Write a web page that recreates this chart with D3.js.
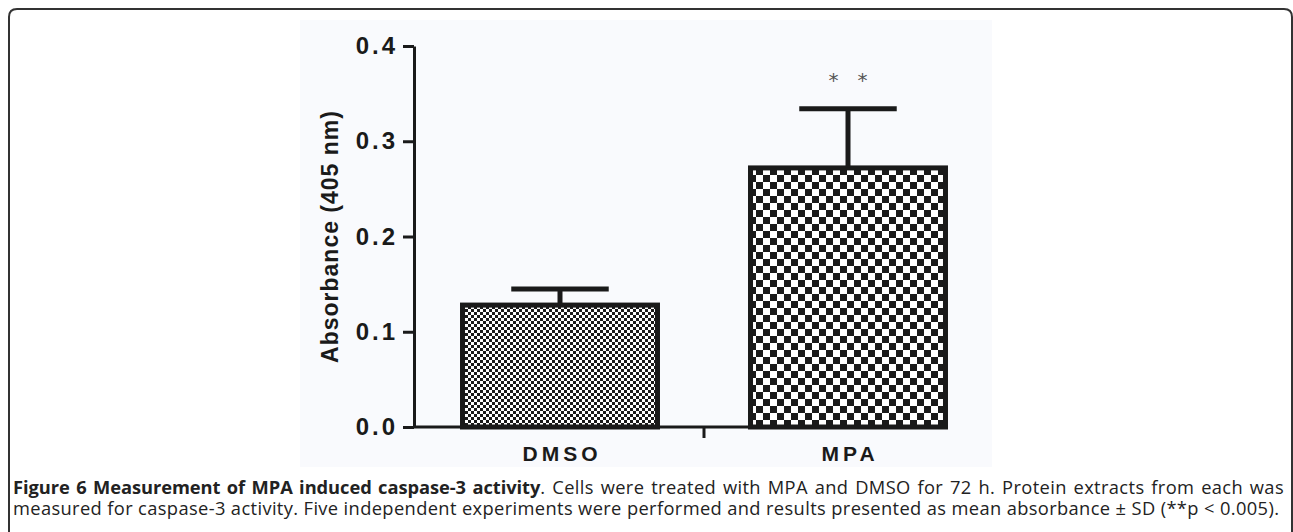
<!DOCTYPE html>
<html>
<head>
<meta charset="utf-8">
<script src="https://cdn.jsdelivr.net/npm/d3@7"></script>
<style>
  body { margin: 0; background: #fff; }
  #wrap { position: relative; width: 1293px; height: 532px; overflow: hidden; }
  svg { position: absolute; left: 0; top: 0; }
  #caption {
    position: absolute; left: 13px; top: 476px; width: 1271px;
    font-family: "Open Sans", sans-serif; font-size: 18.3px; line-height: 21px;
    color: #222; text-align: justify; text-align-last: left;
    letter-spacing: 0.37px;
  }
  #caption b { font-weight: 700; letter-spacing: -0.05px; }
</style>
</head>
<body>
<div id="wrap">
  <div id="chart"></div>
  <div id="caption"></div>
</div>
<script>
const categories = ["DMSO", "MPA"]
const means = [0.128, 0.272]
const sds = [0.017, 0.062]
const stars = ["", "*   *"]
const yTicks = [0, 0.1, 0.2, 0.3, 0.4]
const yLabel = "Absorbance (405 nm)"
const captionTitle = "Figure 6 Measurement of MPA induced caspase-3 activity"
const captionBody = ". Cells were treated with MPA and DMSO for 72 h. Protein extracts from each was measured for caspase-3 activity. Five independent experiments were performed and results presented as mean absorbance \u00b1 SD (**p &lt; 0.005)."

const data = categories.map((c, i) => ({cat: c, mean: means[i], sd: sds[i], star: stars[i]}))

const width = 1293
const height = 532
const axisX = 414

const svg = d3.select("#chart").append("svg")
  .attr("width", width)
  .attr("height", height)

// outer rounded frame
svg.append("path")
  .attr("d", "M9,532 V17 Q9,9 17,9 H1284 Q1292,9 1292,17 V532")
  .attr("fill", "none")
  .attr("stroke", "#333")
  .attr("stroke-width", 2)

// light backdrop of the figure image
svg.append("rect")
  .attr("x", 300).attr("y", 20)
  .attr("width", 692).attr("height", 447)
  .attr("fill", "#f9fafd")

/* checker patterns */
const defs = svg.append("defs")
const makeChecker = (id, s) => {
  const p = defs.append("pattern")
    .attr("id", id)
    .attr("patternUnits", "userSpaceOnUse")
    .attr("width", 2 * s).attr("height", 2 * s)
  p.append("rect").attr("width", 2 * s).attr("height", 2 * s).attr("fill", "#fff")
  p.append("rect").attr("width", s).attr("height", s).attr("fill", "#1a1a1a")
  p.append("rect").attr("x", s).attr("y", s).attr("width", s).attr("height", s).attr("fill", "#1a1a1a")
}
makeChecker("chk0", 3)
makeChecker("chk1", 7)

const yScale = d3.scaleLinear()
  .domain([0, 0.4])
  .range([427, 46])

const xScale = d3.scaleBand()
  .domain(categories)
  .range([416, 992])
  .paddingInner(0.323)
  .paddingOuter(0.1615)

// bars
svg.selectAll(".bar")
  .data(data)
  .enter()
  .append("rect")
  .attr("class", "bar")
  .attr("x", d => xScale(d.cat))
  .attr("y", d => yScale(d.mean))
  .attr("width", xScale.bandwidth())
  .attr("height", d => yScale(0) - yScale(d.mean))
  .attr("fill", (d, i) => `url(#chk${i})`)
  .attr("stroke", "#1a1a1a")
  .attr("stroke-width", 5)

// error bars (upper only)
const err = svg.selectAll(".err")
  .data(data)
  .enter()
  .append("g")
  .attr("class", "err")
  .attr("stroke", "#1a1a1a")
  .attr("stroke-width", 5)
err.append("line")
  .attr("x1", d => xScale(d.cat) + xScale.bandwidth() / 2)
  .attr("x2", d => xScale(d.cat) + xScale.bandwidth() / 2)
  .attr("y1", d => yScale(d.mean))
  .attr("y2", d => yScale(d.mean + d.sd))
err.append("line")
  .attr("x1", d => xScale(d.cat) + xScale.bandwidth() / 4)
  .attr("x2", d => xScale(d.cat) + xScale.bandwidth() * 3 / 4)
  .attr("y1", d => yScale(d.mean + d.sd))
  .attr("y2", d => yScale(d.mean + d.sd))

// significance stars
svg.selectAll(".star")
  .data(data)
  .enter()
  .append("text")
  .attr("class", "star")
  .attr("x", d => xScale(d.cat) + xScale.bandwidth() / 2)
  .attr("y", d => yScale(d.mean + d.sd) - 22)
  .attr("text-anchor", "middle")
  .attr("font-family", "DejaVu Sans, sans-serif")
  .attr("font-size", 20)
  .attr("fill", "#555")
  .style("white-space", "pre")
  .text(d => d.star)

/* axes */
const yAxis = d3.axisLeft(yScale)
  .tickValues(yTicks)
  .tickFormat(d3.format(".1f"))
  .tickSize(11)
  .tickPadding(5)
  .tickSizeOuter(0)

const gy = svg.append("g")
  .attr("transform", `translate(${axisX},0)`)
  .call(yAxis)
gy.selectAll("path, line").attr("stroke", "#1a1a1a").attr("stroke-width", 3)
gy.selectAll("text")
  .attr("font-family", "Liberation Sans, Arial, sans-serif")
  .attr("font-weight", "bold")
  .attr("font-size", 24)
  .attr("letter-spacing", 3)
  .attr("fill", "#1a1a1a")

// x baseline
const xEnd = xScale(categories[categories.length - 1]) + xScale.bandwidth() + 2
svg.append("line")
  .attr("x1", axisX).attr("x2", xEnd)
  .attr("y1", yScale(0)).attr("y2", yScale(0))
  .attr("stroke", "#1a1a1a").attr("stroke-width", 3)

// divider tick between categories
const mid = (xScale(categories[0]) + xScale.bandwidth() + xScale(categories[1])) / 2
svg.append("line")
  .attr("x1", mid).attr("x2", mid)
  .attr("y1", yScale(0)).attr("y2", yScale(0) + 11)
  .attr("stroke", "#1a1a1a").attr("stroke-width", 3)

// category labels
svg.selectAll(".cat")
  .data(data)
  .enter()
  .append("text")
  .attr("class", "cat")
  .attr("x", d => xScale(d.cat) + xScale.bandwidth() / 2 + 2)
  .attr("y", 461)
  .attr("text-anchor", "middle")
  .attr("font-family", "Liberation Sans, Arial, sans-serif")
  .attr("font-weight", "bold")
  .attr("font-size", 21)
  .attr("letter-spacing", 4)
  .attr("fill", "#1a1a1a")
  .text(d => d.cat)

// y label
svg.append("text")
  .attr("transform", `translate(338,${(yScale(0) + yScale(0.4)) / 2}) rotate(-90)`)
  .attr("text-anchor", "middle")
  .attr("font-family", "Liberation Sans, Arial, sans-serif")
  .attr("font-weight", "bold")
  .attr("font-size", 23)
  .attr("letter-spacing", 1)
  .attr("fill", "#1a1a1a")
  .text(yLabel)

// caption
d3.select("#caption").html(`<b>${captionTitle}</b>${captionBody}`)
</script>
</body>
</html>
